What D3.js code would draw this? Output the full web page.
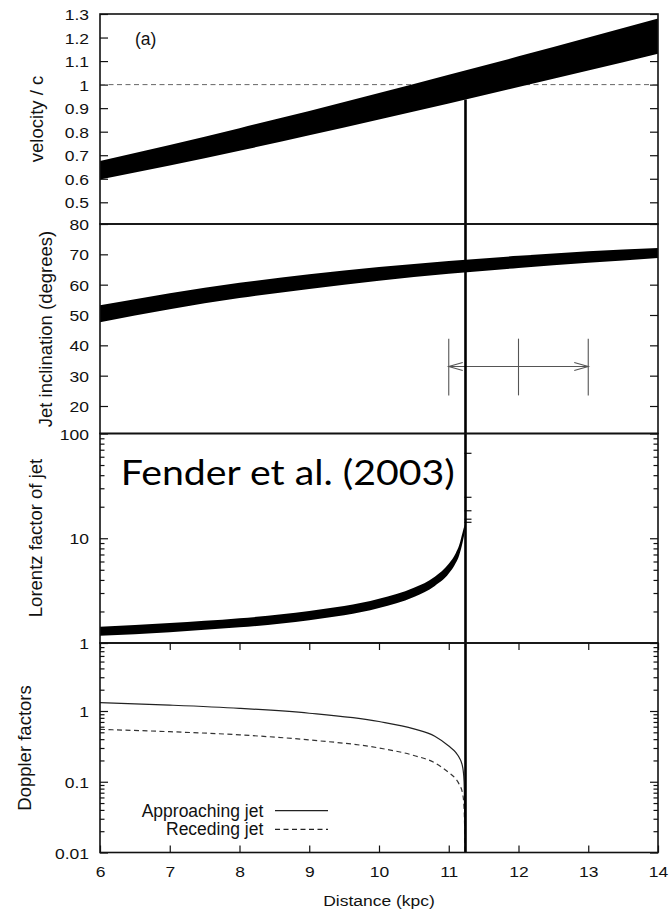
<!DOCTYPE html>
<html>
<head>
<meta charset="utf-8">
<script src="https://cdn.jsdelivr.net/npm/d3@7"></script>
<style>
  html, body { margin: 0; padding: 0; background: #fff; }
  svg { display: block; }
  text { font-family: "Liberation Sans", Arial, Helvetica, sans-serif; fill: #111; }
</style>
</head>
<body>
<svg id="chart" width="669" height="911"></svg>
<script>
// ---- Data -----------------------------------------------------------------
// Source distance grid (kpc)
const distance = [6, 7, 8, 9, 10, 11, 12, 13, 14];
// (a) intrinsic jet speed, v/c : lower / upper bound of the band
const velocityLow  = [0.597, 0.656, 0.719, 0.785, 0.852, 0.920, 0.990, 1.060, 1.131];
const velocityHigh = [0.675, 0.743, 0.815, 0.888, 0.964, 1.042, 1.120, 1.200, 1.281];
// Jet inclination to the line of sight (degrees)
const inclinationLow  = [47.6, 51.9, 55.6, 58.6, 61.3, 63.6, 65.5, 67.2, 68.8];
const inclinationHigh = [53.2, 57.2, 60.6, 63.4, 65.8, 67.8, 69.5, 71.0, 72.1];
// Lorentz factor band (only exists below the limiting distance)
const lorentzDistance = [6, 7, 8, 9, 10, 10.5, 10.8, 11, 11.1, 11.15, 11.2, 11.23];
const lorentzLow  = [1.17, 1.27, 1.41, 1.65, 2.16, 2.75, 3.51, 4.6, 5.8, 6.9, 9.2, 11.5];
const lorentzHigh = [1.43, 1.55, 1.72, 2.02, 2.64, 3.36, 4.29, 5.7, 7.2, 8.6, 11.5, 13.5];
// Lorentz factor markers stacked at the limit
const lorentzTail = [14.2, 15.2, 18.3, 24.6, 64.7];
// Doppler factors
const dopplerDistance = [6, 7, 8, 9, 10, 10.5, 10.8, 11, 11.1, 11.15, 11.2, 11.22, 11.235];
const dopplerApproaching = [1.31, 1.21, 1.09, 0.93, 0.71, 0.56, 0.44, 0.32, 0.26, 0.22, 0.16, 0.10, 0.01];
const dopplerReceding    = [0.55, 0.51, 0.46, 0.39, 0.30, 0.235, 0.185, 0.135, 0.11, 0.092, 0.067, 0.042, 0.01];
// Distance at which the jet reaches c, and the band's lower speed there
const limitDistance = [11.24];
const limitVelocity = [0.937];
// Independent distance estimate (kpc) drawn in the inclination panel
const estimateDistance = [11, 12, 13];
const estimateInclination = [33];
const estimateSpan = [23.5, 42.2];
// Axis ticks and labels
const xTicks = [6, 7, 8, 9, 10, 11, 12, 13, 14];
const xTickLabels = ["6", "7", "8", "9", "10", "11", "12", "13", "14"];
const velocityTicks = [0.5, 0.6, 0.7, 0.8, 0.9, 1.0, 1.1, 1.2, 1.3];
const velocityTickLabels = ["0.5", "0.6", "0.7", "0.8", "0.9", "1", "1.1", "1.2", "1.3"];
const inclinationTicks = [20, 30, 40, 50, 60, 70, 80];
const inclinationTickLabels = ["20", "30", "40", "50", "60", "70", "80"];
const lorentzTicks = [1, 10, 100];
const lorentzTickLabels = ["1", "10", "100"];
const dopplerTicks = [0.01, 0.1, 1];
const dopplerTickLabels = ["0.01", "0.1", "1"];

// ---- Layout ---------------------------------------------------------------
const L = 100, R = 658;
const P = [[14, 224], [224, 433.5], [433.5, 643], [643, 852.5]];
const svg = d3.select("#chart");

const x  = d3.scaleLinear().domain([6, 14]).range([L, R]);
const y1 = d3.scaleLinear().domain([0.5, 1.3]).range([202.3, 14]);
const y2 = d3.scaleLinear().domain([20, 80]).range([406, 224]);
const y3 = d3.scaleLog().domain([1, 100]).range([643, 433.5]);
const y4 = d3.scaleLog().domain([0.01, 1]).range([852.5, 711]);

const defs = svg.append("defs");
P.forEach((p, i) => {
  defs.append("clipPath").attr("id", "clip" + i)
    .append("rect").attr("x", L).attr("y", p[0]).attr("width", R - L).attr("height", p[1] - p[0]);
});

const SQ = 0.88; // tick label vertical compression

// Tick helper: inward ticks on both sides, labels on the left
function yAxis(scale, values, labels, size, top, bottom) {
  const inRange = v => scale(v) >= top - 0.5 && scale(v) <= bottom + 0.5;
  const vals = values.filter(inRange);
  const fmt = labels ? (d => labels[values.indexOf(d)]) : (() => "");
  const gl = svg.append("g").attr("transform", `translate(${L},0)`)
    .call(d3.axisLeft(scale).tickValues(vals).tickSize(-size).tickPadding(11).tickFormat(fmt));
  const gr = svg.append("g").attr("transform", `translate(${R},0)`)
    .call(d3.axisRight(scale).tickValues(vals).tickSize(-size).tickFormat(() => ""));
  [gl, gr].forEach(g => {
    g.select(".domain").remove();
    g.attr("font-family", null).attr("font-size", null).attr("color", "#111");
    g.selectAll("line").attr("stroke-width", 1.2);
  });
  gl.selectAll("text")
    .attr("dy", "0.36em")
    .attr("transform", `scale(1,${SQ})`)
    .style("font-size", "17.5px");
}

function logMinor(scale, lo, hi) {
  const out = [];
  for (let e = lo; e < hi; e++) for (let k = 2; k <= 9; k++) out.push(k * Math.pow(10, e));
  return out;
}

// Panel (a): velocity
yAxis(y1, velocityTicks, velocityTickLabels, 8, P[0][0], P[0][1]);
// Panel: inclination
yAxis(y2, inclinationTicks, inclinationTickLabels, 8, P[1][0], P[1][1]);
// Panel: Lorentz factor
yAxis(y3, logMinor(y3, 0, 2), null, 4.5, P[2][0], P[2][1]);
yAxis(y3, lorentzTicks, lorentzTickLabels, 8, P[2][0], P[2][1]);
// Panel: Doppler factors
yAxis(y4, logMinor(y4, -2, 1), null, 4.5, P[3][0] + 2, P[3][1]);
yAxis(y4, dopplerTicks, dopplerTickLabels, 8, P[3][0] + 2, P[3][1]);

// Distance axis (bottom panel only, mirrored on top)
const gxb = svg.append("g").attr("transform", `translate(0,${P[3][1]})`)
  .call(d3.axisBottom(x).tickValues(xTicks).tickSize(-7).tickFormat((d, i) => xTickLabels[i]));
const gxt = svg.append("g").attr("transform", `translate(0,${P[3][0]})`)
  .call(d3.axisTop(x).tickValues(xTicks).tickSize(-7).tickFormat(() => ""));
[gxb, gxt].forEach(g => {
  g.select(".domain").remove();
  g.attr("font-family", null).attr("font-size", null).attr("color", "#111");
  g.selectAll("line").attr("stroke-width", 1.2);
});
gxb.selectAll("text").attr("y", 0).attr("dy", null)
  .attr("transform", `translate(0,24.5) scale(1,${SQ})`)
  .style("font-size", "17.5px");

// ---- Marks ----------------------------------------------------------------
// (a) v = c reference
svg.append("line")
  .attr("x1", L).attr("x2", R).attr("y1", y1(1)).attr("y2", y1(1))
  .attr("stroke", "#666").attr("stroke-width", 1).attr("stroke-dasharray", "5,3.5");

const rowsV = distance.map((d, i) => ({ d, lo: velocityLow[i], hi: velocityHigh[i] }));
svg.append("path").datum(rowsV).attr("clip-path", "url(#clip0)")
  .attr("fill", "#000")
  .attr("d", d3.area().x(r => x(r.d)).y0(r => y1(r.lo)).y1(r => y1(r.hi)).curve(d3.curveMonotoneX));

const rowsI = distance.map((d, i) => ({ d, lo: inclinationLow[i], hi: inclinationHigh[i] }));
svg.append("path").datum(rowsI).attr("clip-path", "url(#clip1)")
  .attr("fill", "#000")
  .attr("d", d3.area().x(r => x(r.d)).y0(r => y2(r.lo)).y1(r => y2(r.hi)).curve(d3.curveMonotoneX));

// Distance estimate with its range
const gEst = svg.append("g").attr("stroke", "#555").attr("stroke-width", 1.1).attr("fill", "none");
estimateDistance.forEach(d => {
  gEst.append("line").attr("x1", x(d)).attr("x2", x(d))
    .attr("y1", y2(estimateSpan[1])).attr("y2", y2(estimateSpan[0]));
});
const ay = y2(estimateInclination[0]);
const ax0 = x(estimateDistance[0]), ax1 = x(estimateDistance[2]);
gEst.append("line").attr("x1", ax0).attr("x2", ax1).attr("y1", ay).attr("y2", ay);
gEst.append("path").attr("d", `M${ax0 + 14},${ay - 4}L${ax0},${ay}L${ax0 + 14},${ay + 4}`);
gEst.append("path").attr("d", `M${ax1 - 14},${ay - 4}L${ax1},${ay}L${ax1 - 14},${ay + 4}`);

// Lorentz factor band
const rowsG = lorentzDistance.map((d, i) => ({ d, lo: lorentzLow[i], hi: lorentzHigh[i] }));
svg.append("path").datum(rowsG).attr("clip-path", "url(#clip2)")
  .attr("fill", "#000")
  .attr("d", d3.area().x(r => x(r.d)).y0(r => y3(r.lo)).y1(r => y3(r.hi)).curve(d3.curveMonotoneX));
svg.append("g").attr("stroke", "#111").attr("stroke-width", 1.2)
  .selectAll("line").data(lorentzTail).join("line")
  .attr("x1", x(limitDistance[0]) - 1).attr("x2", x(limitDistance[0]) + 6)
  .attr("y1", d => y3(d)).attr("y2", d => y3(d));

// Doppler factors
const rowsD = dopplerDistance.map((d, i) => ({ d, a: dopplerApproaching[i], r: dopplerReceding[i] }));
svg.append("path").datum(rowsD).attr("clip-path", "url(#clip3)")
  .attr("fill", "none").attr("stroke", "#222").attr("stroke-width", 1.2)
  .attr("d", d3.line().x(r => x(r.d)).y(r => y4(r.a)).curve(d3.curveMonotoneX));
svg.append("path").datum(rowsD).attr("clip-path", "url(#clip3)")
  .attr("fill", "none").attr("stroke", "#333").attr("stroke-width", 1.2)
  .attr("stroke-dasharray", "5,3.5")
  .attr("d", d3.line().x(r => x(r.d)).y(r => y4(r.r)).curve(d3.curveMonotoneX));

// Limit distance: line through all panels
svg.append("line")
  .attr("x1", x(limitDistance[0])).attr("x2", x(limitDistance[0]))
  .attr("y1", y1(limitVelocity[0])).attr("y2", P[3][1])
  .attr("stroke", "#000").attr("stroke-width", 2.6);

// Panel frames
P.forEach(p => {
  svg.append("rect").attr("x", L).attr("y", p[0]).attr("width", R - L).attr("height", p[1] - p[0])
    .attr("fill", "none").attr("stroke", "#111").attr("stroke-width", 1.6);
});

// ---- Text -----------------------------------------------------------------
svg.append("text").attr("x", 135).attr("y", 44.6).style("font-size", "17.5px").text("(a)");

const titles = [
  ["velocity / c", 42.5, 119],
  ["Jet inclination (degrees)", 52.3, 329],
  ["Lorentz factor of jet", 42, 538],
  ["Doppler factors", 30.6, 748]
];
titles.forEach(t => {
  svg.append("text").attr("transform", `translate(${t[1]},${t[2]}) rotate(-90)`)
    .attr("text-anchor", "middle").style("font-size", "18.5px").text(t[0]);
});

svg.append("text").attr("transform", `translate(379,905.5) scale(1,${SQ})`)
  .attr("text-anchor", "middle").style("font-size", "17.5px").text("Distance (kpc)");

// Legend
const legend = [
  ["Approaching jet", 810.7, null],
  ["Receding jet", 829.3, "5,3.5"]
];
legend.forEach(l => {
  svg.append("text").attr("x", 263.3).attr("y", l[1] + 6).attr("text-anchor", "end")
    .style("font-size", "17.5px").text(l[0]);
  svg.append("line").attr("x1", 275).attr("x2", 328).attr("y1", l[1]).attr("y2", l[1])
    .attr("stroke", "#222").attr("stroke-width", 1.2)
    .attr("stroke-dasharray", l[2]);
});

// Citation
svg.append("text").attr("x", 120.7).attr("y", 485.3)
  .attr("textLength", 334).attr("lengthAdjust", "spacingAndGlyphs")
  .style("font-family", "Lato, 'Open Sans', sans-serif").style("font-size", "35px").style("fill", "#000")
  .text("Fender et al. (2003)");
</script>
</body>
</html>
